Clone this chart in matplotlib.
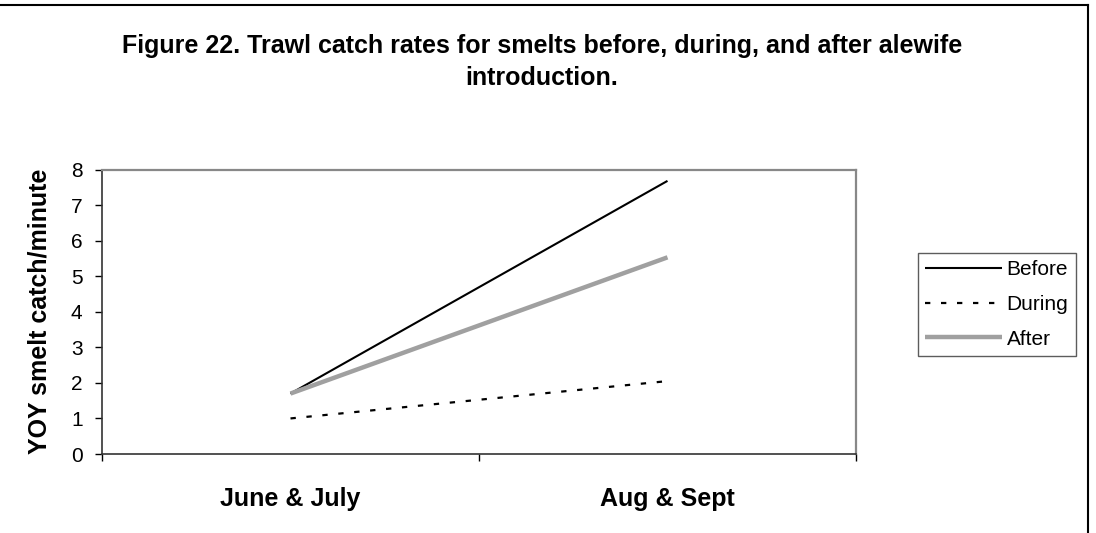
import matplotlib
matplotlib.use("Agg")
import matplotlib.pyplot as plt
from matplotlib.lines import Line2D

plt.rcParams['font.family'] = ['Liberation Sans', 'DejaVu Sans']

categories = ["June & July", "Aug & Sept"]
before = [1.7, 7.68]
during = [1.0, 2.05]
after = [1.7, 5.53]
yticks = [0, 1, 2, 3, 4, 5, 6, 7, 8]

W, H = 1096, 533
fig = plt.figure(figsize=(W / 100, H / 100), dpi=100)
ax = fig.add_axes([102 / W, 1 - 454 / H, (856 - 102) / W, (454 - 169.5) / H])

x = list(range(len(categories)))
ax.plot(x, before, color='black', lw=1.5, label='Before', solid_capstyle='butt')
ax.plot(x, during, color='black', lw=1.6, dashes=(2.4, 4.8), label='During')
ax.plot(x, after, color='#a0a0a0', lw=3.2, label='After', solid_capstyle='butt')

ax.set_xlim(-0.5, len(categories) - 0.5)
ax.set_ylim(0, 8)
ax.set_yticks(yticks)
ax.set_yticklabels([str(v) for v in yticks], fontsize=15)
ax.tick_params(axis='y', direction='out', length=5, width=1, pad=9, colors='black')

ax.set_xticks([i - 0.5 for i in range(len(categories) + 1)])
ax.set_xticklabels([])
ax.tick_params(axis='x', which='major', direction='out', length=5, width=1, colors='black')
ax.set_xticks(x, minor=True)
ax.set_xticklabels(categories, minor=True, fontsize=18, fontweight='bold')
ax.tick_params(axis='x', which='minor', length=0, pad=24)

for s in ['left', 'bottom']:
    ax.spines[s].set_color('#333333')
    ax.spines[s].set_linewidth(1.2)
for s in ['top', 'right']:
    ax.spines[s].set_color('#888888')
    ax.spines[s].set_linewidth(1.6)

fig.text(40 / W, 1 - 311 / H, "YOY smelt catch/minute", rotation=90,
         ha='center', va='center', fontsize=18, fontweight='bold')

fig.text(542 / W, 1 - 53 / H,
         "Figure 22. Trawl catch rates for smelts before, during, and after alewife",
         ha='center', va='baseline', fontsize=18, fontweight='bold')
fig.text(542 / W, 1 - 85 / H, "introduction.",
         ha='center', va='baseline', fontsize=18, fontweight='bold')

leg = ax.legend(loc='upper left', bbox_to_anchor=(918 / W, 1 - 253 / H),
                bbox_transform=fig.transFigure, fontsize=15, frameon=True,
                fancybox=False, edgecolor='#333333', handlelength=3.7,
                handletextpad=0.2, labelspacing=0.75, borderpad=0.35,
                borderaxespad=0)
leg.get_frame().set_linewidth(1.0)

fig.add_artist(Line2D([0, 1088 / W], [1 - 5 / H, 1 - 5 / H], transform=fig.transFigure,
                      color='black', lw=1.5))
fig.add_artist(Line2D([1088 / W, 1088 / W], [1 - 5 / H, 0], transform=fig.transFigure,
                      color='black', lw=1.5))

fig.savefig("out.png", dpi=100)
